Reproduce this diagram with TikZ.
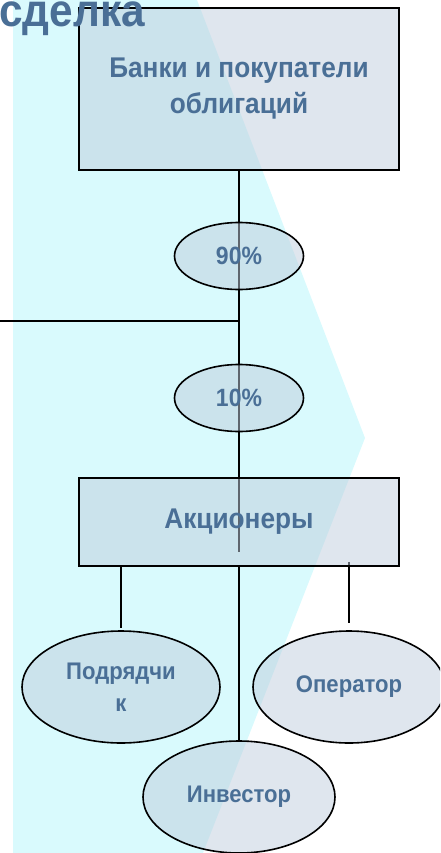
\documentclass[tikz,border=0pt]{standalone}
\usepackage{fontspec}
\newfontfamily\lblfont[FakeStretch=0.92]{Liberation Sans}
\usepackage{tikz}
\usetikzlibrary{
	shapes.geometric,
	positioning
}
\definecolor{arrowbg}{HTML}{D9FAFD}
\definecolor{boxfill}{HTML}{BFCDDD}
\definecolor{lbltext}{HTML}{4A6F96}
\pgfdeclarelayer{bg}
\pgfdeclarelayer{wires}
\pgfsetlayers{bg,wires,main}

\begin{document}
\begin{tikzpicture}[x=1pt,y=-1pt,
		box/.style={draw,line width=1.6pt,fill=boxfill,fill opacity=.5,text opacity=1,
			text=lbltext,inner sep=0pt,minimum width=320pt,align=center,
			font=\lblfont\bfseries\fontsize{28.5}{36}\selectfont},
		share/.style={ellipse,draw,line width=1.6pt,fill=boxfill,fill opacity=.5,text opacity=1,
			text=lbltext,inner sep=0pt,minimum width=129pt,minimum height=67pt,
			font=\lblfont\bfseries\fontsize{25}{30}\selectfont},
		party/.style={share,minimum width=195pt,minimum height=112pt,align=center,
			font=\lblfont\bfseries\fontsize{24}{32}\selectfont},
		wire/.style={line width=1.6pt}
	]
		\useasboundingbox (0,0) rectangle (440,853);
		\clip (0,0) rectangle (440,853);

		\begin{pgfonlayer}{bg}
			\fill[arrowbg] (13,0) -- (197,0) -- (365,438) -- (203,853) -- (13,853) -- cycle;
		\end{pgfonlayer}

		\draw
			node[box,minimum height=162pt]          (banks) at (239,89)  {Банки и покупатели\\облигаций}
			node[share]                             (p90)   at (239,256) {90\%}
			node[share]                             (p10)   at (239,398) {10\%}
			node[box,minimum height=88pt]           (owners) at (239,522) {Акционеры}
			node[party,minimum width=198pt]         (contr) at (121,687) {Подрядчи\\к}
			node[party,minimum width=192pt]         (oper)  at (349,687) {Оператор}
			node[party,minimum width=192pt]         (inv)   at (239,797) {Инвестор}
		;

		% title sits over the top box
		\node[anchor=base west,text=lbltext,inner sep=0pt,
			font=\lblfont\bfseries\fontsize{46}{50}\selectfont] (title) at (-1,27) {сделка};

		\coordinate (side) at (0,321);
		\coordinate (stub) at (239,552);

		\begin{pgfonlayer}{wires}
			\draw[wire] (banks.south) -- (stub);
			\draw[wire] (side) -- (side -| banks.south);
			\draw[wire] (owners.south) -- (inv.north);
			\draw[wire] (owners.south -| contr.north) -- ([yshift=2pt]contr.north);
			\draw[wire] ([yshift=5pt]owners.south -| oper.north) -- ([yshift=7pt]oper.north);
		\end{pgfonlayer}
	\end{tikzpicture}
\end{document}
